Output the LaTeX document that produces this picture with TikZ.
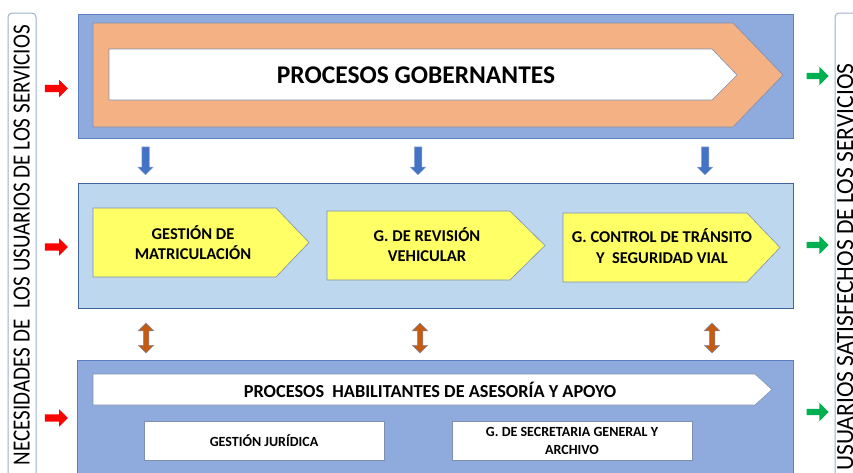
\documentclass[tikz,border=0pt]{standalone}
\usepackage{fontspec}
\setmainfont{Carlito}
\usetikzlibrary{shapes.arrows}
\definecolor{bandblue}{HTML}{8FAADC}
\definecolor{bandedge}{HTML}{5B7FC0}
\definecolor{paleblue}{HTML}{BDD7EE}
\definecolor{paleedge}{HTML}{41649E}
\definecolor{govorange}{HTML}{F4B183}
\definecolor{govedge}{HTML}{7F8FB0}
\definecolor{procyellow}{HTML}{FFFF66}
\definecolor{sideedge}{HTML}{9DB0CC}
\definecolor{downblue}{HTML}{4472C4}
\definecolor{duoorange}{HTML}{C55A11}
\definecolor{ingreen}{HTML}{00B050}
\begin{document}
\begin{tikzpicture}[x=1pt,y=-1pt,
  band/.style={fill=bandblue,draw=bandedge,line width=0.8pt},
  paleband/.style={fill=paleblue,draw=paleedge,line width=0.8pt},
  sidebox/.style={draw=sideedge,line width=1pt,rounded corners=4pt,fill=white},
  chev/.style={draw=govedge,line width=0.6pt},
  boxtext/.style={inner sep=0pt,align=center,font=\bfseries},
  blockarrow/.style={shape=single arrow,draw=none,inner xsep=0pt,
     single arrow head indent=0pt,single arrow tip angle=90},
  redarrow/.style={blockarrow,fill=red,inner ysep=3.5pt,minimum height=23pt,single arrow head extend=5pt},
  greenarrow/.style={blockarrow,fill=ingreen,inner ysep=3pt,minimum height=22pt,single arrow head extend=6pt},
  downarrow/.style={blockarrow,fill=downblue,draw=bandblue,line width=0.5pt,inner ysep=3.5pt,minimum height=28pt,single arrow head extend=4pt,rotate=-90},
  duoarrow/.style={shape=double arrow,fill=duoorange,draw=govedge,line width=0.5pt,inner xsep=0pt,inner ysep=2.5pt,
     double arrow head indent=0pt,double arrow tip angle=90,double arrow head extend=5pt,minimum height=30pt,rotate=90}
]
\useasboundingbox (0,0) rectangle (853,472);
\clip (0,0) rectangle (853,472);

% side boxes
\draw[sidebox] (8,13) rectangle (36,492);
\draw[sidebox] (835,13) rectangle (880,492);
\node[rotate=90,anchor=south,inner sep=0pt] (need) at (30,245)
  {\resizebox{440pt}{16pt}{NECESIDADES DE\hspace{0.3em} LOS USUARIOS DE LOS SERVICIOS}};
\node[rotate=90,anchor=north,inner sep=0pt] (sat) at (837,267)
  {\resizebox{407pt}{16pt}{USUARIOS SATISFECHOS DE LOS SERVICIOS}};

% top band
\draw[band] (78,14) rectangle (793,138);
\draw[chev,fill=govorange] (93,23) -- (733,23) -- (783,75) -- (733,127) -- (93,127) -- cycle;
\draw[chev,fill=white] (109,49) -- (712,49) -- (737,75) -- (712,100) -- (109,100) -- cycle;
\node[boxtext,font=\fontsize{25.5}{28}\selectfont\bfseries] (gob) at (416,75) {PROCESOS GOBERNANTES};

% middle band
\draw[paleband] (78,183) rectangle (793,308);
\draw[chev,fill=procyellow] (93,208) -- (276,208) -- (309,242.5) -- (276,277) -- (93,277) -- cycle;
\draw[chev,fill=procyellow] (327,211) -- (510,211) -- (545,245.5) -- (510,280) -- (327,280) -- cycle;
\draw[chev,fill=procyellow] (563,213) -- (747,213) -- (780,247.5) -- (747,282) -- (563,282) -- cycle;
\node[boxtext,font=\fontsize{16.5}{20}\selectfont\bfseries] (mat) at (193,243) {GESTIÓN DE\\MATRICULACIÓN};
\node[boxtext,font=\fontsize{16.5}{20}\selectfont\bfseries] (rev) at (427,245) {G. DE REVISIÓN\\VEHICULAR};
\node[boxtext,font=\fontsize{16.5}{21}\selectfont\bfseries] (tra) at (662,246) {G. CONTROL DE TRÁNSITO\\Y\ \ SEGURIDAD VIAL};

% bottom band
\draw[band] (77,360) rectangle (793,492);
\draw[chev,fill=white] (93,374) -- (755,374) -- (772,389.5) -- (755,405) -- (93,405) -- cycle;
\node[boxtext,font=\fontsize{18.3}{20}\selectfont\bfseries] (hab) at (430,389.5) {PROCESOS\ \ HABILITANTES DE ASESORÍA Y APOYO};
\draw[chev,fill=white] (144,421) rectangle (384,460);
\draw[chev,fill=white] (452,421) rectangle (692,460);
\node[boxtext,font=\fontsize{14}{18}\selectfont\bfseries] (jur) at (264,440.5) {GESTIÓN JURÍDICA};
\node[boxtext,font=\fontsize{14}{18}\selectfont\bfseries] (sec) at (572,441) {G. DE SECRETARIA GENERAL Y\\ARCHIVO};

% block arrows
\node[redarrow] (r1) at (54.5,88.5) {};
\node[redarrow] (r2) at (54.5,247) {};
\node[redarrow] (r3) at (54.5,418) {};
\node[greenarrow] (g1) at (816,76) {};
\node[greenarrow] (g2) at (816,245) {};
\node[greenarrow] (g3) at (816,412) {};
\node[downarrow] (d1) at (145.5,159) {};
\node[downarrow] (d2) at (418,159) {};
\node[downarrow] (d3) at (705,159) {};
\node[duoarrow] (u1) at (146,338) {};
\node[duoarrow] (u2) at (420,338) {};
\node[duoarrow] (u3) at (712,338) {};
\end{tikzpicture}
\end{document}
